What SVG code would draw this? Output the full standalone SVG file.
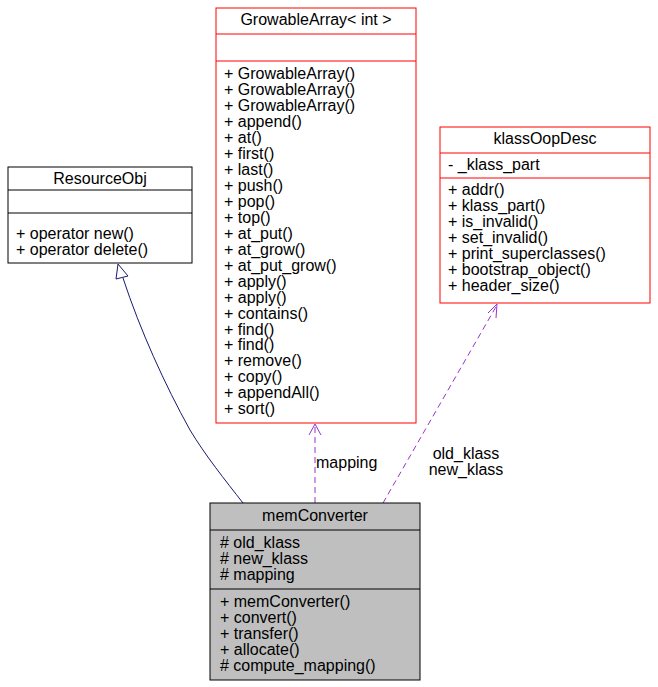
<svg xmlns="http://www.w3.org/2000/svg" width="658" height="687" viewBox="0 0 658 687">
<style>
text{font-family:"Liberation Sans",Arial,sans-serif;font-size:16px;fill:#000}
.c{text-anchor:middle}
.box{fill:#fff;stroke:#000;stroke-width:1}
.red{fill:#fff;stroke:#ff0000;stroke-width:1}
.gray{fill:#bfbfbf;stroke:#000;stroke-width:1}
.dash{fill:none;stroke:#9a32cd;stroke-dasharray:6,4}
</style>
<rect width="658" height="687" fill="#fff"/>
<g id="connectors">
<path d="M243,503 C225,480 205,455 190,430 C165,385 140,330 123,278" fill="none" stroke="#191970"/>
<polygon points="118,264 116,279 128,276" fill="#fff" stroke="#191970"/>
<path d="M315,503 L315,425" class="dash"/>
<path d="M309,435 L315,424 L321,435" fill="none" stroke="#9a32cd"/>
<text x="316" y="468">mapping</text>
<path d="M383,503 L497,305" class="dash"/>
<path d="M488,313 L497,304 L496,318" fill="none" stroke="#9a32cd"/>
<text x="466" y="459" class="c">old_klass</text>
<text x="466" y="475" class="c">new_klass</text>
</g>
<g id="ResourceObj">
<rect x="8" y="167" width="184" height="96" class="box"/>
<line x1="8" y1="190" x2="192" y2="190" stroke="#000"/>
<line x1="8" y1="213" x2="192" y2="213" stroke="#000"/>
<text x="100" y="184" class="c">ResourceObj</text>
<text x="16" y="239">+ operator new()</text>
<text x="16" y="255">+ operator delete()</text>
</g>
<g id="GrowableArray">
<rect x="216" y="8" width="200" height="415" class="red"/>
<line x1="216" y1="34" x2="416" y2="34" stroke="#ff0000"/>
<line x1="216" y1="61" x2="416" y2="61" stroke="#ff0000"/>
<text x="316" y="25" class="c">GrowableArray&lt; int &gt;</text>
<text x="224" y="79">+ GrowableArray()</text>
<text x="224" y="95">+ GrowableArray()</text>
<text x="224" y="111">+ GrowableArray()</text>
<text x="224" y="127">+ append()</text>
<text x="224" y="143">+ at()</text>
<text x="224" y="159">+ first()</text>
<text x="224" y="175">+ last()</text>
<text x="224" y="190.5">+ push()</text>
<text x="224" y="206.5">+ pop()</text>
<text x="224" y="222.5">+ top()</text>
<text x="224" y="238.5">+ at_put()</text>
<text x="224" y="254.5">+ at_grow()</text>
<text x="224" y="270.5">+ at_put_grow()</text>
<text x="224" y="286.5">+ apply()</text>
<text x="224" y="302.5">+ apply()</text>
<text x="224" y="318.5">+ contains()</text>
<text x="224" y="334.5">+ find()</text>
<text x="224" y="350">+ find()</text>
<text x="224" y="366">+ remove()</text>
<text x="224" y="382">+ copy()</text>
<text x="224" y="398">+ appendAll()</text>
<text x="224" y="414">+ sort()</text>
</g>
<g id="klassOopDesc">
<rect x="440" y="127" width="210" height="176" class="red"/>
<line x1="440" y1="153" x2="650" y2="153" stroke="#ff0000"/>
<line x1="440" y1="178" x2="650" y2="178" stroke="#ff0000"/>
<text x="545" y="144" class="c">klassOopDesc</text>
<text x="448" y="170">- _klass_part</text>
<text x="448" y="195">+ addr()</text>
<text x="448" y="211">+ klass_part()</text>
<text x="448" y="227">+ is_invalid()</text>
<text x="448" y="243">+ set_invalid()</text>
<text x="448" y="259">+ print_superclasses()</text>
<text x="448" y="275">+ bootstrap_object()</text>
<text x="448" y="291">+ header_size()</text>
</g>
<g id="memConverter">
<rect x="210" y="503" width="210" height="177" class="gray"/>
<line x1="210" y1="530" x2="420" y2="530" stroke="#000"/>
<line x1="210" y1="589" x2="420" y2="589" stroke="#000"/>
<text x="315" y="521" class="c">memConverter</text>
<text x="220" y="548"># old_klass</text>
<text x="220" y="564"># new_klass</text>
<text x="220" y="580"># mapping</text>
<text x="220" y="607">+ memConverter()</text>
<text x="220" y="623">+ convert()</text>
<text x="220" y="639">+ transfer()</text>
<text x="220" y="655">+ allocate()</text>
<text x="220" y="671"># compute_mapping()</text>
</g>
</svg>
